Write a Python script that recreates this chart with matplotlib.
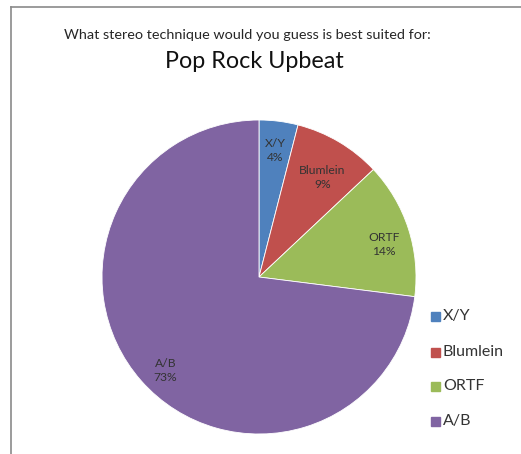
import numpy as np
import matplotlib.pyplot as plt
from matplotlib.lines import Line2D

# Survey answers
techniques = ['X/Y', 'Blumlein', 'ORTF', 'A/B']
shares = [4, 9, 14, 73]
colors = ['#4F81BD', '#C0504D', '#9BBB59', '#8064A2']

W, H = 521, 454
plt.rcParams['font.family'] = ['Lato', 'DejaVu Sans']

fig = plt.figure(figsize=(W / 100, H / 100), dpi=100)
fig.patch.set_facecolor('white')

# chart frame (top and left edges)
fig.add_artist(Line2D([10.5 / W, 10.5 / W], [0, 1 - 6.5 / H], color='#8a8a8a', lw=1.2))
fig.add_artist(Line2D([10.5 / W, 1], [1 - 6.5 / H, 1 - 6.5 / H], color='#8a8a8a', lw=1.2))

fig.text(247 / W, 1 - 35 / H, 'What stereo technique would you guess is best suited for:',
         ha='center', va='center', fontsize=10.4, color='#262626')
fig.text(254 / W, 1 - 62 / H, 'Pop Rock Upbeat',
         ha='center', va='center', fontsize=16.8, color='#111111')

# pie area: center (259, 277), radius 157 px
cx, cy, r = 259, 277, 157
ax = fig.add_axes([(cx - r) / W, 1 - (cy + r) / H, 2 * r / W, 2 * r / H])
labels = [f'{t}\n{v}%' for t, v in zip(techniques, shares)]
wedges, texts = ax.pie(shares, colors=colors, startangle=90, counterclock=False,
                       labels=labels, labeldistance=0.8,
                       wedgeprops=dict(linewidth=0.6, edgecolor='white'),
                       textprops=dict(fontsize=8.7, color='#333333', ha='center',
                                      va='center', linespacing=1.35))
# nudge labels slightly inside their wedges (distance, angle shift in degrees)
nudges = [(0.81, 0.0), (0.75, -2.0), (0.82, -3.5), (0.84, 3.5)]
for w, t, (d, da) in zip(wedges, texts, nudges):
    a = np.deg2rad((w.theta1 + w.theta2) / 2 + da)
    t.set_position((d * np.cos(a), d * np.sin(a)))
ax.set_xlim(-1, 1)
ax.set_ylim(-1, 1)
ax.set_aspect('equal')

# legend on the right
for i, (t, c) in enumerate(zip(techniques, colors)):
    y = [316, 352, 386, 421][i]
    fig.patches.append(plt.Rectangle((431 / W, 1 - (y + 4.5) / H), 9 / W, 9 / H,
                                     transform=fig.transFigure, color=c, figure=fig))
    fig.text(443 / W, 1 - y / H, t, ha='left', va='center', fontsize=11.5, color='#333333')

fig.savefig('out.png', dpi=100)
